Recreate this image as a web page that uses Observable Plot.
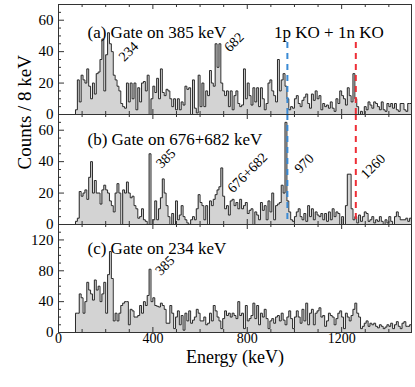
<!DOCTYPE html>
<html><head><meta charset="utf-8">
<script src="https://cdn.jsdelivr.net/npm/d3@7"></script>
<script src="https://cdn.jsdelivr.net/npm/@observablehq/plot@0.6"></script>
<style>
body{margin:0;background:#fff;}
#chart{width:415px;height:387px;}
#chart svg{display:block;overflow:visible !important;background:transparent !important;font-family:"Liberation Serif","Times New Roman",serif !important;}
</style></head><body><div id="chart"></div>
<script>
// Histogram bins: 8 keV wide, first bin starts at 72 keV
const binStart = 72;
const binWidth = 8;

// (a) Gate on 385 keV
const countsA = [
3,22,8,25,22,20,29,18,10,20,
13,26,27,35,48,15,38,52,45,40,
25,22,18,15,7,5,4,20,8,20,
10,20,3,17,8,20,21,15,25,0,
10,18,14,23,10,29,14,12,16,15,
10,5,10,3,10,3,8,6,18,16,
17,0,22,4,1,25,5,
20,5,15,12,28,20,18,45,30,45,
20,15,12,15,5,15,3,12,15,7,
5,6,29,10,20,12,6,17,8,17,
5,17,10,3,7,20,22,15,12,8,
35,15,22,26,18,10,3,5,4,10,
12,7,5,9,11,13,7,4,13,9,
15,10,12,3,7,5,6,4,8,4,
2,10,7,15,12,10,6,17,12,8,
26,10,5,0,2,0,5,3,8,6,
4,8,7,5,3,8,3,2,7,5,
7,4,7,3,2,7,7,3,2,7,
7];

// (b) Gate on 676+682 keV
const countsB = [
2,4,21,18,20,22,16,30,40,20,
28,20,20,13,22,25,22,20,15,12,
8,20,26,20,0,22,20,27,20,17,
18,12,10,4,5,10,3,2,0,45,
0,3,15,3,10,17,29,20,12,5,
0,7,0,15,3,6,12,5,3,1,
0,3,5,3,10,19,14,
12,3,12,0,15,12,16,19,22,24,
36,18,10,12,6,15,16,12,14,10,
16,10,12,14,7,9,10,0,8,6,
3,14,9,12,3,15,8,20,3,12,
13,14,25,20,65,15,8,3,2,5,
8,10,5,3,7,2,12,5,10,3,
8,6,5,7,3,7,2,8,3,10,
5,8,7,0,5,0,12,32,32,10,
3,5,1,6,2,5,8,7,2,3,
5,1,3,2,5,2,0,3,1,5,
2,0,5,8,5,3,3,3,4,2,
4];

// (c) Gate on 234 keV
const countsC = [
25,25,50,45,25,40,65,55,50,42,
68,55,60,40,50,65,25,75,105,70,
15,25,15,25,35,38,40,40,10,30,
28,20,20,22,35,25,40,35,48,82,
40,45,35,34,33,38,35,30,12,12,
35,25,5,20,28,10,22,3,25,15,
28,12,16,20,30,25,15,
15,20,10,12,25,15,35,28,20,15,
5,18,28,22,25,20,25,22,18,40,
22,25,5,35,15,18,22,38,18,35,
10,25,20,30,18,5,15,18,12,20,
22,15,25,16,10,20,28,18,5,20,
28,20,12,30,15,38,10,25,30,10,
25,28,32,20,22,8,15,25,22,20,
10,18,25,28,20,5,25,20,15,22,
30,38,25,20,5,8,12,15,8,12,
10,12,8,6,10,8,5,7,10,8,
12,5,10,14,8,5,12,14,8,8,
10];

const xTickLabels = [0, 400, 800, 1200];
const xMajorTicks = [400, 800, 1200];
const xMinorTicks = [100, 200, 300, 500, 600, 700, 900, 1000, 1100, 1300, 1400];
const yTickLabelsAB = [0, 20, 40, 60];
const yMinorAB = [5, 10, 15, 25, 30, 35, 45, 50, 55, 65];
const yTickLabelsC = [0, 40, 80, 120];
const yMinorC = [10, 20, 30, 50, 60, 70, 90, 100, 110, 130];

const titles = ["(a) Gate on 385 keV", "(b) Gate on 676+682 keV", "(c) Gate on 234 keV"];
const koEnergies = [970, 1260];
const koColors = ["#3a8ad4", "#ee2e36"];
const koLabel = "1p KO + 1n KO";
const peakLabelsA = [{text: "234", energy: 297, counts: 40}, {text: "682", energy: 744, counts: 46}];
const peakLabelsB = [{text: "385", energy: 455, counts: 42}, {text: "676+682", energy: 801, counts: 33},
                     {text: "970", energy: 1041, counts: 38.8}, {text: "1260", energy: 1333, counts: 37}];
const peakLabelsC = [{text: "385", energy: 451, counts: 86.8}];
const yTitle = "Counts / 8 keV";
const xTitle = "Energy (keV)";

const FONT = "Liberation Serif";
const W = 415, ML = 58, MR = 4;
const plotW = W - ML - MR;
const xDomain = [0, 1496];

function toSteps(counts) {
  const pts = [{x: binStart, y: 0}];
  counts.forEach((c, i) => pts.push({x: binStart + i * binWidth, y: c}));
  pts.push({x: binStart + counts.length * binWidth, y: counts[counts.length - 1]});
  return pts;
}

function panel(o) {
  const plotH = o.height - o.marginTop - o.marginBottom;
  const pts = toSteps(o.counts);
  const marks = [
    Plot.areaY(pts, {x: "x", y: "y", curve: "step-after", fill: "#d3d3d3"}),
    Plot.lineY(pts, {x: "x", y: "y", curve: "step-after", stroke: "#2a2a2a", strokeWidth: 1})
  ];
  if (o.ko) {
    koEnergies.forEach((e, i) => {
      marks.push(Plot.ruleX([e], {x: d => d, ...(o.koTop != null ? {y1: 0, y2: o.koTop} : {}),
        stroke: koColors[i], strokeWidth: 2, strokeDasharray: "6,5"}));
    });
  }
  marks.push(
    Plot.frame({stroke: "#333", strokeWidth: 1}),
    Plot.tickX(xMinorTicks, {x: d => d, stroke: "#333", insetTop: plotH - 3}),
    Plot.tickX(xMajorTicks, {x: d => d, stroke: "#333", insetTop: plotH - 5}),
    Plot.tickX(xMinorTicks, {x: d => d, stroke: "#333", insetBottom: plotH - 3}),
    Plot.tickX(xMajorTicks, {x: d => d, stroke: "#333", insetBottom: plotH - 5}),
    Plot.tickY(o.yMinor, {y: d => d, stroke: "#333", insetRight: plotW - 3}),
    Plot.tickY(o.yLabels, {y: d => d, stroke: "#333", insetRight: plotW - 6}),
    Plot.axisY({ticks: o.yLabels, tickSize: 0, tickPadding: 5, fontSize: 15, fontFamily: FONT, label: null, tickFormat: d => String(d)}),
    Plot.text([o.title], {text: d => d, frameAnchor: "top-left", dx: 29, dy: o.titleDy, textAnchor: "start", fontSize: 17, fontFamily: FONT}),
    Plot.text(o.peaks, {x: "energy", y: "counts", text: "text", rotate: -45, fontSize: 14, fontFamily: FONT})
  );
  if (o.koText) {
    marks.push(Plot.text([koLabel], {text: d => d, x: 1146, frameAnchor: "top", dy: o.titleDy, fontSize: 17, fontFamily: FONT}));
  }
  if (o.yTitle) {
    marks.push(Plot.text([yTitle], {text: d => d, frameAnchor: "left", dx: -34, rotate: -90, fontSize: 19, fontFamily: FONT}));
  }
  if (o.xAxis) {
    marks.push(
      Plot.axisX({ticks: xTickLabels, tickSize: 0, tickPadding: 1, fontSize: 14, fontFamily: FONT, label: null, tickFormat: d => String(d)}),
      Plot.text([xTitle], {text: d => d, frameAnchor: "bottom", dy: 30, fontSize: 18, fontFamily: FONT})
    );
  }
  return Plot.plot({
    width: W, height: o.height,
    marginLeft: ML, marginRight: MR, marginTop: o.marginTop, marginBottom: o.marginBottom,
    style: {fontFamily: "'Liberation Serif', 'Times New Roman', serif", fontSize: "15px", overflow: "visible", background: "transparent"},
    x: {domain: xDomain, axis: o.xAxis ? undefined : null},
    y: {domain: [0, o.ymax]},
    marks
  });
}

const chart = document.getElementById("chart");
chart.append(panel({counts: countsA, ymax: 70, yLabels: yTickLabelsAB, yMinor: yMinorAB, title: titles[0], titleDy: 21.8,
  peaks: peakLabelsA, ko: true, koTop: 48, koText: true, height: 114, marginTop: 4, marginBottom: 0}));
chart.append(panel({counts: countsB, ymax: 70, yLabels: yTickLabelsAB, yMinor: yMinorAB, title: titles[1], titleDy: 18.5,
  peaks: peakLabelsB, ko: true, yTitle: true, height: 110, marginTop: 0, marginBottom: 0}));
chart.append(panel({counts: countsC, ymax: 140, yLabels: yTickLabelsC, yMinor: yMinorC, title: titles[2], titleDy: 17,
  peaks: peakLabelsC, xAxis: true, height: 163, marginTop: 0, marginBottom: 55}));
</script></body></html>
